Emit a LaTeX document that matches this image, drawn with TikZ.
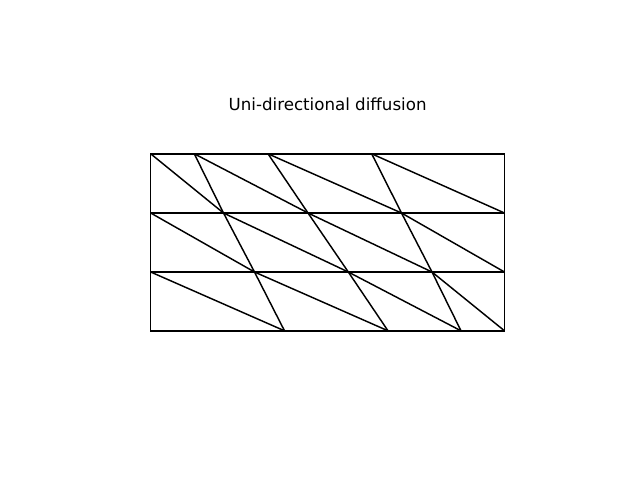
\documentclass[tikz,border=0pt]{standalone}
\usepackage{fontspec}
\setmainfont{DejaVu Sans}
\begin{document}
\begin{tikzpicture}[x=0.72pt,y=-0.72pt,
  mesh/.style={line width=1.05pt,black,line join=round},
  hmesh/.style={line width=1.25pt,black,line cap=rect},
  titletext/.style={font=\fontsize{12pt}{14pt}\selectfont,inner sep=0pt}]
\useasboundingbox (0,0) rectangle (640,480);
% vertices
\foreach \n/\x in {0/150.7,1/194.3,2/268,3/371.7,4/504.5} \coordinate (a\n) at (\x,153.8);
\foreach \n/\x in {0/150.7,1/223.5,2/308,3/401.5,4/504.5} \coordinate (b\n) at (\x,213);
\foreach \n/\x in {0/150.7,1/254.5,2/348.3,3/432,4/504.5} \coordinate (c\n) at (\x,272);
\foreach \n/\x in {0/150.7,1/284.5,2/388,3/461,4/504.5} \coordinate (d\n) at (\x,330.8);
% steep edges
\draw[mesh] (a1) -- (b1) -- (c1) -- (d1);
\draw[mesh] (a2) -- (b2) -- (c2) -- (d2);
\draw[mesh] (a3) -- (b3) -- (c3) -- (d3);
% shallow edges
\draw[mesh] (a0) -- (b1); \draw[mesh] (a1) -- (b2); \draw[mesh] (a2) -- (b3); \draw[mesh] (a3) -- (b4);
\draw[mesh] (b0) -- (c1); \draw[mesh] (b1) -- (c2); \draw[mesh] (b2) -- (c3); \draw[mesh] (b3) -- (c4);
\draw[mesh] (c0) -- (d1); \draw[mesh] (c1) -- (d2); \draw[mesh] (c2) -- (d3); \draw[mesh] (c3) -- (d4);
% horizontal edges
\draw[hmesh] (a0) -- (a4);
\draw[hmesh] (b0) -- (b4);
\draw[hmesh] (c0) -- (c4);
\draw[hmesh] (d0) -- (d4);
% vertical boundary
\draw[mesh] (a0) -- (d0);
\draw[mesh] (a4) -- (d4);
\node[titletext] (title) at (327.6,104) {Uni-directional diffusion};
\end{tikzpicture}
\end{document}
